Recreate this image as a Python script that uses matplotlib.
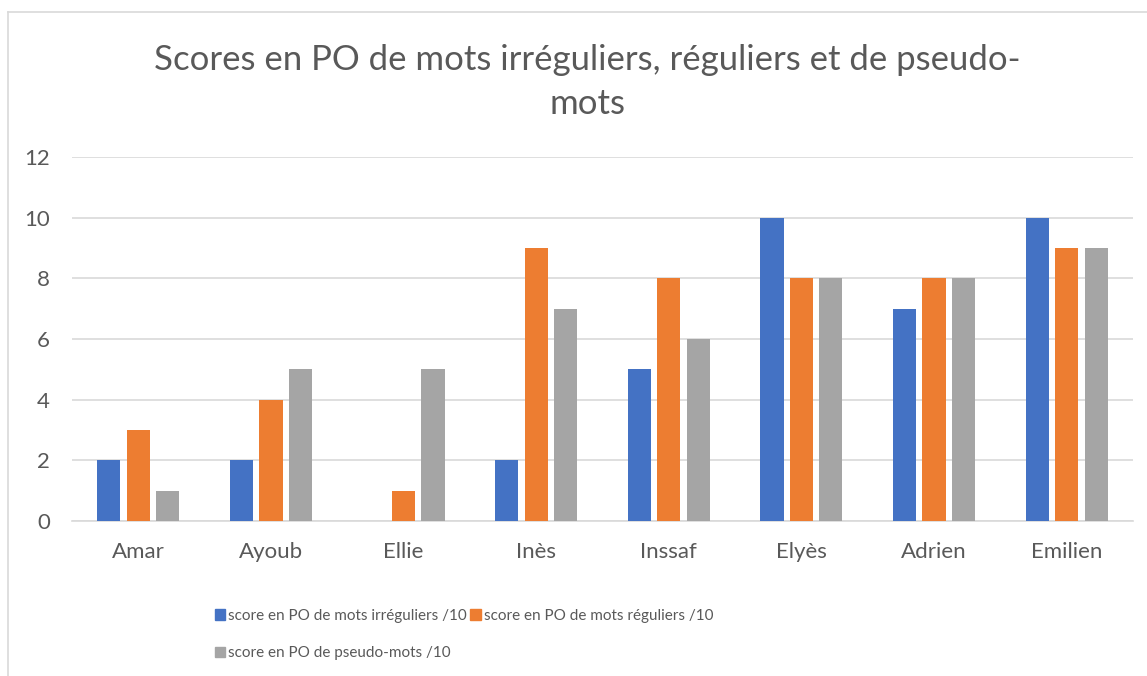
import matplotlib
matplotlib.use("Agg")
import matplotlib.pyplot as plt
import numpy as np
from matplotlib.lines import Line2D
from matplotlib.patches import Patch

categories = ["Amar", "Ayoub", "Ellie", "Inès", "Inssaf", "Elyès", "Adrien", "Emilien"]
irreguliers = [2, 2, 0, 2, 5, 10, 7, 10]
reguliers = [3, 4, 1, 9, 8, 8, 8, 9]
pseudo = [1, 5, 5, 7, 6, 8, 8, 9]
series_names = ["score en PO de mots irréguliers /10",
                "score en PO de mots réguliers /10",
                "score en PO de pseudo-mots /10"]
colors = ["#4472C4", "#ED7D31", "#A5A5A5"]
title_lines = ["Scores en PO de mots irréguliers, réguliers et de pseudo-", "mots"]

plt.rcParams['font.family'] = ['Lato', 'DejaVu Sans']
W, H = 1147, 676
fig = plt.figure(figsize=(W / 100, H / 100), dpi=100)
ax = fig.add_axes([72 / W, 1 - 521 / H, (1133 - 72) / W, (521 - 157) / H])

x = np.arange(len(categories))
bw = 0.175
step = 0.222
for i, (vals, c, name) in enumerate(zip([irreguliers, reguliers, pseudo], colors, series_names)):
    ax.bar(x + (i - 1) * step, vals, width=bw, color=c, label=name, zorder=3)

ax.set_xlim(-0.5, len(categories) - 0.5)
ax.set_ylim(0, 12)
ax.set_yticks(range(0, 13, 2))
ax.set_xticks(x)
ax.set_xticklabels(categories)
ax.grid(axis='y', color='#D9D9D9', linewidth=1.2, zorder=0)
for s in ['top', 'right', 'left']:
    ax.spines[s].set_visible(False)
ax.spines['bottom'].set_color('#D9D9D9')
ax.spines['bottom'].set_linewidth(1.2)
ax.tick_params(axis='both', length=0, labelsize=16, labelcolor='#595959')
ax.tick_params(axis='y', pad=16)
ax.tick_params(axis='x', pad=15)

fig.text(587 / W, 1 - 70 / H, title_lines[0], ha='center', va='baseline', fontsize=25,
         color='#595959')
fig.text(587 / W, 1 - 114 / H, title_lines[1], ha='center', va='baseline', fontsize=25,
         color='#595959')

handles = [Patch(color=c) for c in colors]
order = [0, 2, 1]
leg = fig.legend([handles[i] for i in order], [series_names[i] for i in order],
                 ncol=2, loc='upper left', bbox_to_anchor=(201 / W, 1 - 595 / H),
                 frameon=False, fontsize=11, labelcolor='#595959',
                 handlelength=0.7, handleheight=0.7, handletextpad=0.2,
                 columnspacing=0.2, labelspacing=1.55)

fig.add_artist(Line2D([8 / W, 1], [1 - 12 / H, 1 - 12 / H], transform=fig.transFigure,
                      color='#D9D9D9', linewidth=1.2))
fig.add_artist(Line2D([8 / W, 8 / W], [0, 1 - 12 / H], transform=fig.transFigure,
                      color='#D9D9D9', linewidth=1.2))

fig.savefig("out.png", dpi=100)
